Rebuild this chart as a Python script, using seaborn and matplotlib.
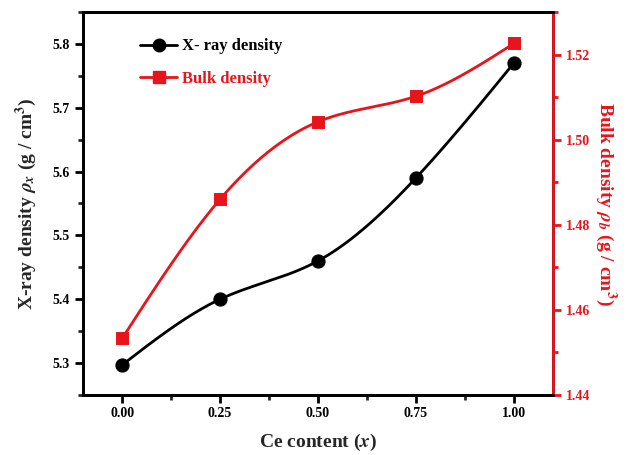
import numpy as np
import pandas as pd
import seaborn as sns
import matplotlib.pyplot as plt
from matplotlib.lines import Line2D
from matplotlib.ticker import MultipleLocator

ce_content = [0.00, 0.25, 0.50, 0.75, 1.00]
xray_density = [5.297, 5.40, 5.46, 5.59, 5.77]
bulk_density = [1.4533, 1.486, 1.5042, 1.5102, 1.5226]

sns.set_theme(style='ticks')
plt.rcParams['font.family'] = ['Liberation Serif', 'DejaVu Serif']
plt.rcParams['font.weight'] = 'bold'
plt.rcParams['mathtext.fontset'] = 'stix'


def spline(x, y, n=200):
    # natural cubic spline, only used to draw the connecting curve
    x = np.asarray(x, float)
    y = np.asarray(y, float)
    k = len(x)
    h = np.diff(x)
    A = np.zeros((k, k))
    b = np.zeros(k)
    A[0, 0] = A[-1, -1] = 1
    for i in range(1, k - 1):
        A[i, i - 1] = h[i - 1]
        A[i, i] = 2 * (h[i - 1] + h[i])
        A[i, i + 1] = h[i]
        b[i] = 6 * ((y[i + 1] - y[i]) / h[i] - (y[i] - y[i - 1]) / h[i - 1])
    M = np.linalg.solve(A, b)
    xs = np.linspace(x[0], x[-1], n)
    idx = np.clip(np.searchsorted(x, xs) - 1, 0, k - 2)
    x0, x1 = x[idx], x[idx + 1]
    hh = x1 - x0
    ys = (M[idx] * (x1 - xs) ** 3 / (6 * hh) + M[idx + 1] * (xs - x0) ** 3 / (6 * hh)
          + (y[idx] / hh - M[idx] * hh / 6) * (x1 - xs)
          + (y[idx + 1] / hh - M[idx + 1] * hh / 6) * (xs - x0))
    return xs, ys


df = pd.DataFrame({'x': ce_content, 'xray': xray_density, 'bulk': bulk_density})
xs, ys_x = spline(ce_content, xray_density)
_, ys_b = spline(ce_content, bulk_density)

fig = plt.figure(figsize=(6.26, 4.55), dpi=100)
ax = fig.add_axes([0.1326, 0.132, 0.7508, 0.8416])
ax2 = ax.twinx()

sns.lineplot(x=xs, y=ys_x, ax=ax, color='black', lw=2, zorder=2)
sns.scatterplot(data=df, x='x', y='xray', ax=ax, color='black', marker='o', s=90,
                edgecolor='black', zorder=3)
sns.lineplot(x=xs, y=ys_b, ax=ax2, color='#e8141b', lw=2, zorder=2)
sns.scatterplot(data=df, x='x', y='bulk', ax=ax2, color='#e8141b', marker='s', s=75,
                edgecolor='#e8141b', zorder=3)

ax.set_xlim(-0.1, 1.1)
ax.set_ylim(5.25, 5.85)
ax2.set_ylim(1.44, 1.53)
ax.set_xticks(ce_content)
ax.set_xticklabels(['0.00', '0.25', '0.50', '0.75', '1.00'])
ax.xaxis.set_minor_locator(MultipleLocator(0.125))
ax.set_yticks([5.3, 5.4, 5.5, 5.6, 5.7, 5.8])
ax.yaxis.set_minor_locator(MultipleLocator(0.05))
ax2.set_yticks([1.44, 1.46, 1.48, 1.50, 1.52])
ax2.yaxis.set_minor_locator(MultipleLocator(0.01))

ax.set_xlabel('Ce content ($\\it{x}$)', fontsize=14, fontweight='bold', labelpad=8)
ax.set_ylabel('X-ray density $\\rho_x$ (g / cm$^3$)', fontsize=14, fontweight='bold', labelpad=10)
ax2.set_ylabel('Bulk density $\\rho_b$ (g / cm$^3$)', fontsize=14, fontweight='bold',
               color='#e8141b', rotation=270, labelpad=20)

for a in (ax, ax2):
    for s in a.spines.values():
        s.set_linewidth(2)
        s.set_color('black')
ax2.spines['right'].set_color('#e8141b')
ax.tick_params(axis='both', which='major', direction='out', length=6, width=2,
               labelsize=10, colors='black')
ax.tick_params(axis='both', which='minor', direction='out', length=3.5, width=2)
ax2.tick_params(axis='y', which='major', direction='out', length=6, width=2,
                labelsize=10, colors='#e8141b')
ax2.tick_params(axis='y', which='minor', direction='out', length=3.5, width=2,
                colors='#e8141b')
for lab in ax.get_xticklabels() + ax.get_yticklabels() + ax2.get_yticklabels():
    lab.set_fontweight('bold')
ax.tick_params(axis='x', pad=3)

handles = [Line2D([], [], color='black', lw=2, marker='o', markersize=9),
           Line2D([], [], color='#e8141b', lw=2, marker='s', markersize=8)]
leg = ax.legend(handles, ['X- ray density', 'Bulk density'], loc='upper left',
                bbox_to_anchor=(0.09, 0.97), frameon=False, fontsize=12,
                handlelength=2.2, labelspacing=1.0, handletextpad=0.3)
for t, c in zip(leg.get_texts(), ['black', '#e8141b']):
    t.set_color(c)
    t.set_fontweight('bold')

fig.savefig('out.png', dpi=100)
